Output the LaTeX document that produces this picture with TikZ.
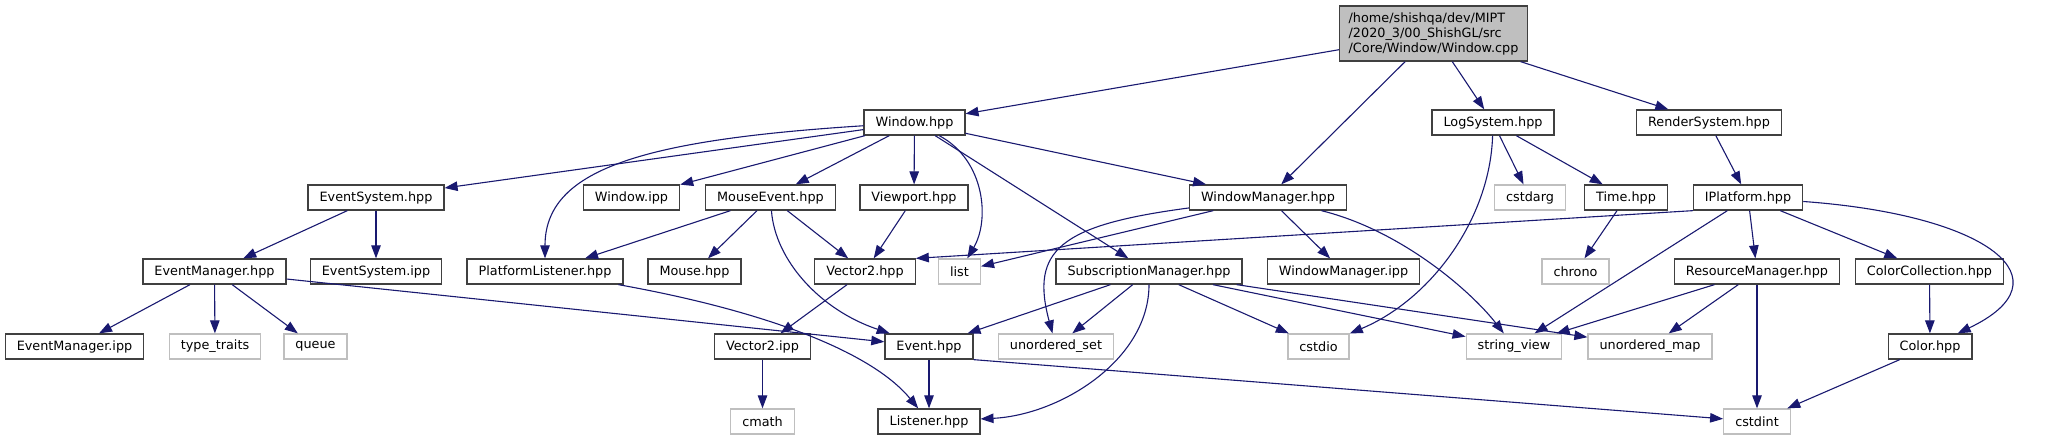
\documentclass[tikz,border=0pt]{standalone}
\usepackage{fontspec}
\setmainfont{DejaVu Sans}
\usetikzlibrary{arrows.meta}
\definecolor{EdgeBlue}{HTML}{191970}
\definecolor{BoxLine}{HTML}{404040}
\definecolor{SysLine}{HTML}{BFBFBF}
\definecolor{RootFill}{HTML}{BFBFBF}

\tikzset{
    filebox/.style={draw=BoxLine, fill=white, line width=1.3pt, minimum height=25pt,
        inner xsep=11.5pt, inner ysep=0pt, font=\fontsize{12.8}{15}\selectfont},
    sysbox/.style={filebox, draw=SysLine},
    rootbox/.style={filebox, fill=RootFill, align=left, minimum height=55pt, inner xsep=9pt},
    inc/.style={draw=EdgeBlue, line width=1.1pt, -{Triangle[length=13pt, width=9.5pt]}}
}

\begin{document}
\begin{tikzpicture}[x=1pt, y=-1pt]
    \useasboundingbox (0,0) rectangle (2053,440);

    % source file
    \node[rootbox] (root) at (1433.5,33.5) {/home/shishqa/dev/MIPT\\/2020\_3/00\_ShishGL/src\\/Core/Window/Window.cpp};

    % first level
    \node[filebox] (win)  at (914.5,122.5) {Window.hpp};
    \node[filebox] (logs) at (1493,122.5)  {LogSystem.hpp};
    \node[filebox] (rend) at (1709,122.5)  {RenderSystem.hpp};

    % second level
    \node[filebox] (evsys)   at (376,197.5)  {EventSystem.hpp};
    \node[filebox] (winipp)  at (631.5,197.5) {Window.ipp};
    \node[filebox] (mev)     at (770.5,197.5) {MouseEvent.hpp};
    \node[filebox] (vport)   at (914,197.5)  {Viewport.hpp};
    \node[filebox] (wm)      at (1268,197.5) {WindowManager.hpp};
    \node[sysbox]  (cstdarg) at (1530,197.5) {cstdarg};
    \node[filebox] (timeh)   at (1626,197.5) {Time.hpp};
    \node[filebox] (ipf)     at (1748,197.5) {IPlatform.hpp};

    % third level
    \node[filebox] (evmgr)    at (214.5,271.5) {EventManager.hpp};
    \node[filebox] (evsysipp) at (376,271.5)   {EventSystem.ipp};
    \node[filebox] (plist)    at (545,271.5)   {PlatformListener.hpp};
    \node[filebox] (mouse)    at (694.5,271.5) {Mouse.hpp};
    \node[filebox] (vec2)     at (865,271.5)   {Vector2.hpp};
    \node[sysbox]  (lst)      at (959.5,271.5) {list};
    \node[filebox] (subm)     at (1149,271.5)  {SubscriptionManager.hpp};
    \node[filebox] (wmipp)    at (1343.5,271.5) {WindowManager.ipp};
    \node[sysbox]  (chrono)   at (1575.5,271.5) {chrono};
    \node[filebox] (resm)     at (1757,271.5)  {ResourceManager.hpp};
    \node[filebox] (colcoll)  at (1929.5,271.5) {ColorCollection.hpp};

    % fourth level
    \node[filebox] (evmgripp) at (74.5,346.5)  {EventManager.ipp};
    \node[sysbox]  (typetr)   at (215,346.5)   {type\_traits};
    \node[sysbox]  (queue)    at (315.5,346.5) {queue};
    \node[filebox] (vec2ipp)  at (762.5,346.5) {Vector2.ipp};
    \node[filebox] (ev)       at (929,346.5)   {Event.hpp};
    \node[sysbox]  (uset)     at (1056,346.5)  {unordered\_set};
    \node[sysbox]  (cstdio)   at (1318.5,346.5) {cstdio};
    \node[sysbox]  (strv)     at (1514,346.5)  {string\_view};
    \node[sysbox]  (umap)     at (1650,346.5)  {unordered\_map};
    \node[filebox] (color)    at (1930,346.5)  {Color.hpp};

    % fifth level
    \node[sysbox]  (cmath)    at (762.5,421.5) {cmath};
    \node[filebox] (listener) at (929,421.5)   {Listener.hpp};
    \node[sysbox]  (cint)     at (1757,421.5)  {cstdint};

    % includes
    \draw[inc] (root) -- (win);
    \draw[inc] (root) -- (wm);
    \draw[inc] (root) -- (logs);
    \draw[inc] (root) -- (rend);

    \draw[inc] (win) -- (evsys);
    \draw[inc] (win) .. controls (640,140) and (545,170) .. (plist);
    \draw[inc] (win) -- (winipp);
    \draw[inc] (win) -- (mev);
    \draw[inc] (win) -- (vport);
    \draw[inc] (win) .. controls (985,160) and (990,220) .. (lst);
    \draw[inc] (win) -- (subm);
    \draw[inc] (win) -- (wm);

    \draw[inc] (evsys) -- (evmgr);
    \draw[inc] (evsys) -- (evsysipp);
    \draw[inc] (evmgr) -- (evmgripp);
    \draw[inc] (evmgr) -- (typetr);
    \draw[inc] (evmgr) -- (queue);
    \draw[inc] (evmgr) -- (ev);

    \draw[inc] (mev) -- (plist);
    \draw[inc] (mev) -- (mouse);
    \draw[inc] (mev) -- (vec2);
    \draw[inc] (mev) .. controls (775,260) and (820,310) .. (ev);
    \draw[inc] (vport) -- (vec2);
    \draw[inc] (plist) .. controls (760,310) and (870,350) .. (listener);
    \draw[inc] (vec2) -- (vec2ipp);
    \draw[inc] (vec2ipp) -- (cmath);
    \draw[inc] (ev) -- (listener);
    \draw[inc] (ev.south east) -- (cint);

    \draw[inc] (wm) -- (lst);
    \draw[inc] (wm) .. controls (1060,225) and (1030,250) .. (uset);
    \draw[inc] (wm) -- (wmipp);
    \draw[inc] (wm) .. controls (1400,230) and (1470,290) .. (strv);

    \draw[inc] (subm) -- (ev);
    \draw[inc] (subm) -- (uset);
    \draw[inc] (subm) .. controls (1149,360) and (1060,415) .. (listener);
    \draw[inc] (subm) -- (cstdio);
    \draw[inc] (subm) -- (strv);
    \draw[inc] (subm) -- (umap);

    \draw[inc] (logs) .. controls (1490,220) and (1430,300) .. (cstdio);
    \draw[inc] (logs) -- (cstdarg);
    \draw[inc] (logs) -- (timeh);
    \draw[inc] (timeh) -- (chrono);

    \draw[inc] (rend) -- (ipf);
    \draw[inc] (ipf.south west) -- (vec2.north east);
    \draw[inc] (ipf) -- (strv);
    \draw[inc] (ipf) -- (resm);
    \draw[inc] (ipf) -- (colcoll);
    \draw[inc] (ipf) .. controls (1990,215) and (2070,280) .. (color);
    \draw[inc] (resm) -- (strv);
    \draw[inc] (resm) -- (umap);
    \draw[inc] (resm) -- (cint);
    \draw[inc] (colcoll) -- (color);
    \draw[inc] (color) -- (cint);
\end{tikzpicture}
\end{document}
